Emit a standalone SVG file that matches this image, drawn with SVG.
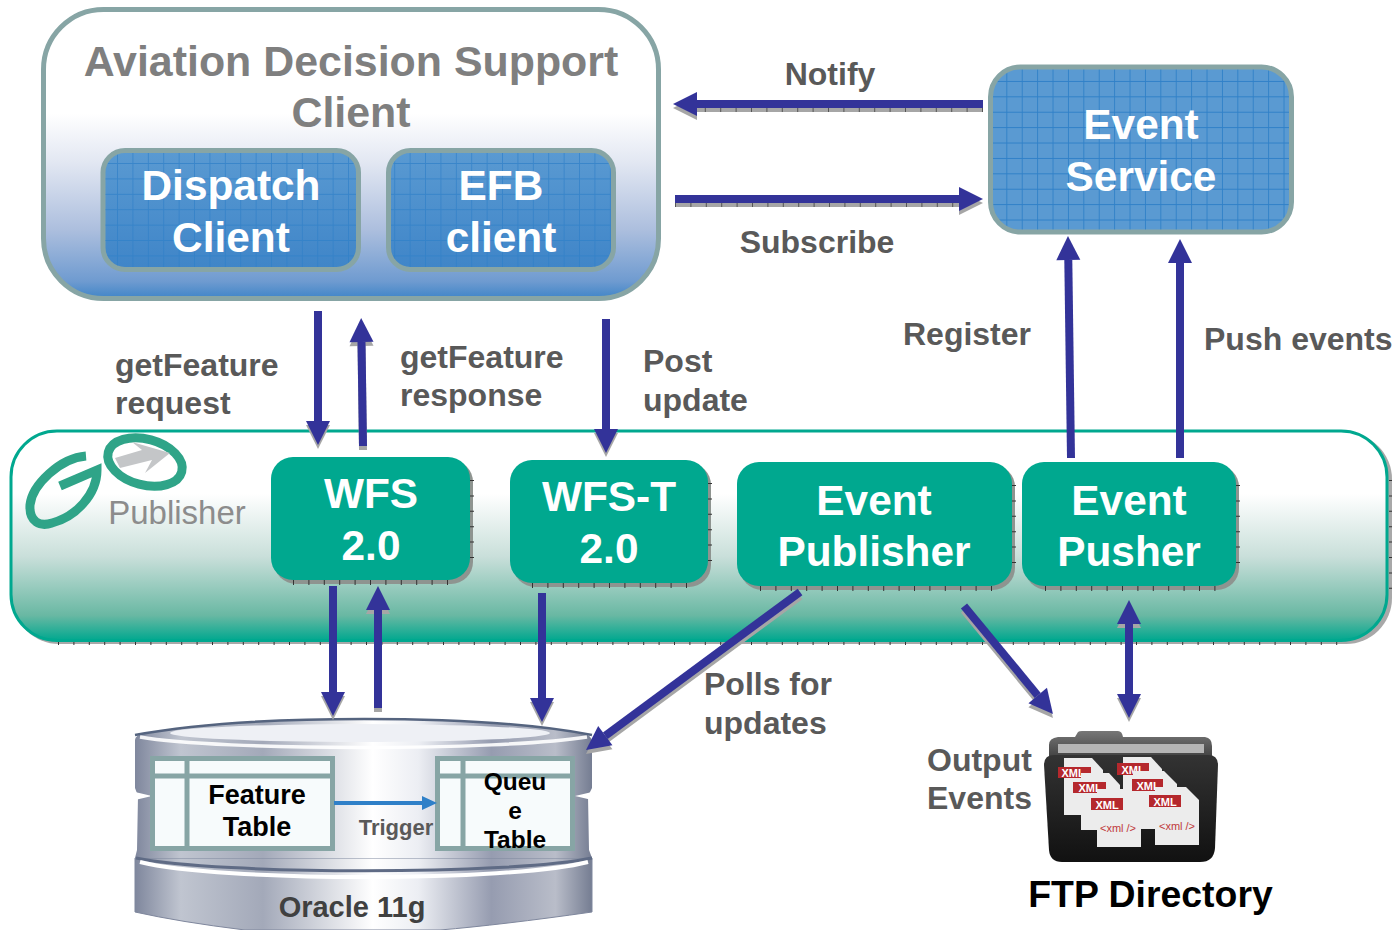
<svg xmlns="http://www.w3.org/2000/svg" width="1396" height="930" viewBox="0 0 1396 930">
<style>
text{font-family:"Liberation Sans",Arial,sans-serif;font-weight:bold;text-anchor:middle}
.lbl{fill:#595959;font-size:32px}
.title{fill:#7f7f7f;font-size:42.9px}
.w{fill:#fff;font-size:42.4px}
.b{fill:#000;font-size:27px}
.q{fill:#000;font-size:24.500px}
.l{text-anchor:start}
.conn{stroke:#333399;stroke-width:8;fill:none}
.sh{stroke:#a6a6a6;stroke-width:8;fill:none}
.tk{stroke:#555;stroke-width:4;stroke-dasharray:1 14.4;fill:none}
.tbl{fill:#f7fbfc;stroke:#87a5a5;stroke-width:5}
.green{fill:#00a88f}
.shd{fill:#8e9490}
.tick{fill:none;stroke:#333;stroke-width:5;stroke-dasharray:1 14.4}
.xml{font-size:11px;fill:#fff}
.xm2{font-size:11px;fill:#c0393b;font-weight:normal}
.doc{fill:#ececec}
.fold{fill:#fff}
.tag{fill:#b5282d}
.box{stroke:#87a5a5;stroke-width:5}
</style>
<defs>
<linearGradient id="gc" x1="0" y1="0" x2="0" y2="1"><stop offset="0" stop-color="#fff"/><stop offset=".36" stop-color="#fff"/><stop offset=".53" stop-color="#e2e7f2"/><stop offset=".76" stop-color="#adbfde"/><stop offset=".94" stop-color="#6f9bd0"/><stop offset="1" stop-color="#3f85c8"/></linearGradient>
<linearGradient id="gp" x1="0" y1="0" x2="0" y2="1"><stop offset="0" stop-color="#fff"/><stop offset=".3" stop-color="#fff"/><stop offset=".6" stop-color="#c9dfda"/><stop offset=".88" stop-color="#69b8a3"/><stop offset="1" stop-color="#00a88f"/></linearGradient>
<linearGradient id="gb" x1="0" y1="0" x2="0" y2="1"><stop offset="0" stop-color="#5a9ad2"/><stop offset="1" stop-color="#3f85c8"/></linearGradient>
<linearGradient id="gd" x1="0" y1="0" x2="1" y2="0"><stop offset="0" stop-color="#7f879d"/><stop offset=".1" stop-color="#c0c5d0"/><stop offset=".28" stop-color="#a3a9b9"/><stop offset=".52" stop-color="#fff"/><stop offset=".62" stop-color="#eceef3"/><stop offset=".78" stop-color="#969cb0"/><stop offset=".92" stop-color="#b9bdc9"/><stop offset="1" stop-color="#757d92"/></linearGradient>
<linearGradient id="gf" x1="0" y1="0" x2="0" y2="1"><stop offset="0" stop-color="#333"/><stop offset=".5" stop-color="#222"/><stop offset="1" stop-color="#111"/></linearGradient>
<linearGradient id="gt" x1="0" y1="0" x2="0" y2="1"><stop offset="0" stop-color="#777"/><stop offset="1" stop-color="#444"/></linearGradient>
<pattern id="grid" x="-5.200" y="-5.400" width="15.400" height="15.400" patternUnits="userSpaceOnUse"><path d="M15 0V15.400M0 15H15.400" stroke="#2f80c8" stroke-width="1" fill="none"/></pattern>
<pattern id="grid2" x="-9.100" y="-10.500" width="15.400" height="15.400" patternUnits="userSpaceOnUse"><rect width="15.400" height="15.400" fill="#5a9ad2"/><path d="M15 0V15.400M0 15H15.400" stroke="#2f80c8" stroke-width="1" fill="none"/></pattern>
<marker id="a" markerUnits="userSpaceOnUse" markerWidth="26" markerHeight="26" refX="1" refY="13" orient="auto"><path d="M1 1 25 13 1 25z" fill="#333399"/></marker>
<marker id="as" markerUnits="userSpaceOnUse" markerWidth="26" markerHeight="26" refX="1" refY="13" orient="auto"><path d="M1 1 25 13 1 25z" fill="#a6a6a6"/></marker>
<marker id="b" markerUnits="userSpaceOnUse" markerWidth="26" markerHeight="26" refX="25" refY="13" orient="auto"><path d="M25 1 1 13 25 25z" fill="#333399"/></marker>
<marker id="bs" markerUnits="userSpaceOnUse" markerWidth="26" markerHeight="26" refX="25" refY="13" orient="auto"><path d="M25 1 1 13 25 25z" fill="#a6a6a6"/></marker>
<path id="d1" d="M0 0H28L39 12V57H0z"/>
<path id="d2" d="M0 0H31L44 13V58H0z"/>
</defs>
<rect width="1396" height="930" fill="#fff"/>

<g id="client">
<rect x="43.500" y="9.500" width="615" height="289" rx="60" fill="url(#gc)" class="box"/>
<text class="title" x="351" y="76">Aviation Decision Support</text>
<text class="title" x="351" y="127">Client</text>
</g>
<g id="dispatch-client">
<rect x="103" y="150.500" width="255.500" height="119" rx="22" fill="url(#gb)" class="box"/>
<rect x="105.500" y="153" width="250.500" height="114" rx="20" fill="url(#grid)" opacity=".75"/>
<text class="w" x="231" y="200">Dispatch</text><text class="w" x="231" y="252">Client</text>
</g>
<g id="efb-client">
<rect x="388.500" y="150.500" width="225" height="119" rx="22" fill="url(#gb)" class="box"/>
<rect x="391" y="153" width="220" height="114" rx="20" fill="url(#grid)" opacity=".75"/>
<text class="w" x="501" y="200">EFB</text><text class="w" x="501" y="252">client</text>
</g>
<g id="event-service">
<rect x="990.500" y="67" width="301" height="165" rx="30" fill="url(#grid2)" class="box"/>
<text class="w" x="1141" y="139">Event</text><text class="w" x="1141" y="191">Service</text>
</g>

<g id="go-publisher">
<rect x="13" y="433" width="1379" height="211" rx="46" fill="#a8a8a8"/>
<path d="M58 643.500H1345M1390.500 480V600" class="tick" style="stroke-width:3"/>
<rect x="11" y="431" width="1376" height="209.500" rx="46" fill="url(#gp)" stroke="#00a88f" stroke-width="3"/>
<g id="logo" fill="none" stroke="#2fa488">
<path d="M86 456C60 458 32 485 30 505C29 522 40 527 52 523C75 517 97 495 97 470L60 486" stroke-width="9"/>
<ellipse cx="145" cy="462" rx="38" ry="23" transform="rotate(15 145 462)" stroke-width="9"/>
<path d="M115 458 142 450 132 442 170 453 145 473 152 460 120 468z" fill="#c4c6c8" stroke="none"/>
<text x="177" y="524" style="font-weight:normal;font-size:33px;fill:#8c8c8c;stroke:none">Publisher</text>
</g>
</g>

<g id="wfs"><rect x="274" y="460" width="199" height="124" rx="22" class="shd"/><path d="M293 582.500H450M471.500 480V565" class="tick"/><rect x="271" y="457" width="199" height="123" rx="22" class="green"/><text class="w" x="371" y="508">WFS</text><text class="w" x="371" y="560">2.0</text></g>
<g id="wfs-t"><rect x="513" y="463" width="198" height="124" rx="22" class="shd"/><path d="M532 585.500H690M709.500 483V568" class="tick"/><rect x="510" y="460" width="198" height="123" rx="22" class="green"/><text class="w" x="609" y="511">WFS-T</text><text class="w" x="609" y="563">2.0</text></g>
<g id="event-publisher"><rect x="740" y="465" width="275" height="125" rx="22" class="shd"/><path d="M760 588.500H995M1013.500 485V570" class="tick"/><rect x="737" y="462" width="275" height="124" rx="22" class="green"/><text class="w" x="874" y="515">Event</text><text class="w" x="874" y="566">Publisher</text></g>
<g id="event-pusher"><rect x="1025" y="465" width="214" height="125" rx="22" class="shd"/><path d="M1045 588.500H1218M1237.500 485V570" class="tick"/><rect x="1022" y="462" width="214" height="124" rx="22" class="green"/><text class="w" x="1129" y="515">Event</text><text class="w" x="1129" y="566">Pusher</text></g>

<g id="oracle">
<path d="M135 858L592 858V912Q500 925 440 930H245Q180 922 135 912Z" fill="url(#gd)" stroke="#7f879d" stroke-width="1"/>
<path d="M138 796L137 850 135 858H592L589 850 588 796Z" fill="url(#gd)"/>
<path d="M135 740Q135 735 145 733C200 723 280 719 364 719C450 719 530 723 582 733Q592 735 592 742V788L588 796H138L135 788Z" fill="url(#gd)"/>
<path d="M135 735C200 723 280 719 364 719C450 719 530 723 592 735" fill="none" stroke="#55647f" stroke-width="2.500"/>
<ellipse cx="360" cy="733" rx="190" ry="9" fill="#eef0f5"/>
<path d="M140 737C220 751 500 751 587 737" fill="none" stroke="#fff" stroke-width="3.500" opacity=".9"/>
<path d="M136 858C220 875 510 875 592 858" fill="none" stroke="#5f6b85" stroke-width="3"/>
<path d="M140 859C220 879 510 879 588 859" fill="none" stroke="#fff" stroke-width="4" transform="translate(0,3)"/>
<path d="M135 792 152 796 135 800M592 792 575 796 592 800" fill="#fff"/>
<text x="352" y="917" style="font-size:29px;fill:#404040">Oracle 11g</text>
</g>
<g id="feature-table">
<rect x="152.500" y="758.500" width="180" height="90" class="tbl"/>
<path d="M152 776H332M187 758V848" class="tbl"/>
<text class="b" x="257" y="804">Feature</text><text class="b" x="257" y="836">Table</text>
</g>
<g id="queue-table">
<rect x="437.500" y="758.500" width="135" height="90" class="tbl"/>
<path d="M437 776H572M463 758V848" class="tbl"/>
<text class="q" x="515" y="790">Queu</text><text class="q" x="515" y="819">e</text><text class="q" x="515" y="848">Table</text>
</g>
<text x="396" y="835" style="font-size:22px;fill:#595959">Trigger</text>

<g id="ftp-directory">
<path d="M1049 756V745Q1049 738 1058 737H1075L1078 732Q1079 731 1082 731H1118Q1122 731 1123 737H1205Q1212 738 1212 746V756Z" fill="url(#gt)"/>
<rect x="1058" y="744" width="146" height="9" fill="#b5b5b5"/>
<path d="M1044 765Q1044 755 1054 755H1208Q1218 755 1218 765L1215 848Q1214 862 1200 862H1062Q1050 862 1049 850Z" fill="url(#gf)"/>
<use href="#d1" x="1064" y="758" class="doc"/><rect class="tag" x="1058" y="767" width="33" height="11"/><text class="xml" x="1073" y="777">XML</text>
<use href="#d1" x="1123" y="757" class="doc"/><rect class="tag" x="1117" y="763" width="32" height="12"/><text class="xml" x="1133" y="774">XML</text>
<use href="#d1" x="1081" y="773" class="doc"/><rect class="tag" x="1073" y="782" width="33" height="11"/><text class="xml" x="1090" y="792">XML</text>
<use href="#d2" x="1133" y="771" class="doc"/><rect class="tag" x="1132" y="779" width="31" height="12"/><text class="xml" x="1148" y="790">XML</text>
<use href="#d2" x="1097" y="789" class="doc"/><rect class="tag" x="1091" y="798" width="32" height="12"/><text class="xml" x="1107" y="809">XML</text><text class="xm2" x="1118" y="832">&lt;xml /&gt;</text>
<use href="#d2" x="1155" y="787" class="doc"/><rect class="tag" x="1149" y="795" width="32" height="12"/><text class="xml" x="1165" y="806">XML</text><text class="xm2" x="1177" y="830">&lt;xml /&gt;</text>
<text x="1150.500" y="907" style="font-size:37.400px;fill:#000">FTP Directory</text>
</g>

<g id="connectors">
<g id="connector-shadows" transform="translate(0,4)">
<path class="sh" d="M983 104H697" marker-end="url(#as)"/>
<path class="sh" d="M675 199H959" marker-end="url(#as)"/>
<path class="sh" d="M318 311V421" marker-end="url(#as)"/>
<path class="sh" d="M363 446L361.500 342" marker-end="url(#as)"/>
<path class="sh" d="M606 319V429" marker-end="url(#as)"/>
<path class="sh" d="M333 586V692" marker-end="url(#as)"/>
<path class="sh" d="M378 708V610" marker-end="url(#as)"/>
<path class="sh" d="M542 593V698" marker-end="url(#as)"/>
<path class="sh" d="M800 592L605.300 735.700" marker-end="url(#as)"/>
<path class="sh" d="M964 606L1037.700 695.500" marker-end="url(#as)"/>
<path class="sh" d="M1129 624V694" marker-end="url(#as)" marker-start="url(#bs)"/>
</g>
<path class="tk" d="M983 110H697M675 205H959"/>
<path class="conn" d="M983 104H697" marker-end="url(#a)"/>
<path class="conn" d="M675 199H959" marker-end="url(#a)"/>
<path class="conn" d="M318 311V421" marker-end="url(#a)"/>
<path class="conn" d="M363 446L361.500 342" marker-end="url(#a)"/>
<path class="conn" d="M606 319V429" marker-end="url(#a)"/>
<path class="conn" d="M1071 458L1068.300 260" marker-end="url(#a)"/>
<path class="conn" d="M1180 458V263" marker-end="url(#a)"/>
<path class="conn" d="M333 586V692" marker-end="url(#a)"/>
<path class="conn" d="M378 708V610" marker-end="url(#a)"/>
<path class="conn" d="M542 593V698" marker-end="url(#a)"/>
<path class="conn" d="M800 592L605.300 735.700" marker-end="url(#a)"/>
<path class="conn" d="M964 606L1037.700 695.500" marker-end="url(#a)"/>
<path class="conn" d="M1129 624V694" marker-end="url(#a)" marker-start="url(#b)"/>
<path d="M334 803H424" stroke="#2f80c8" stroke-width="4"/>
<path d="M422 796 437 803 422 810z" fill="#2f80c8"/>
</g>

<g id="labels">
<text class="lbl" x="830" y="85">Notify</text>
<text class="lbl" x="817" y="253">Subscribe</text>
<text class="lbl l" x="115" y="376">getFeature</text><text class="lbl l" x="115" y="414">request</text>
<text class="lbl l" x="400" y="368">getFeature</text><text class="lbl l" x="400" y="406">response</text>
<text class="lbl l" x="643" y="372">Post</text><text class="lbl l" x="643" y="411">update</text>
<text class="lbl" x="967" y="345">Register</text>
<text class="lbl l" x="1204" y="350">Push events</text>
<text class="lbl l" x="704" y="695">Polls for</text><text class="lbl l" x="704" y="734">updates</text>
<text class="lbl l" x="927" y="771">Output</text><text class="lbl l" x="927" y="809">Events</text>
</g>
</svg>
